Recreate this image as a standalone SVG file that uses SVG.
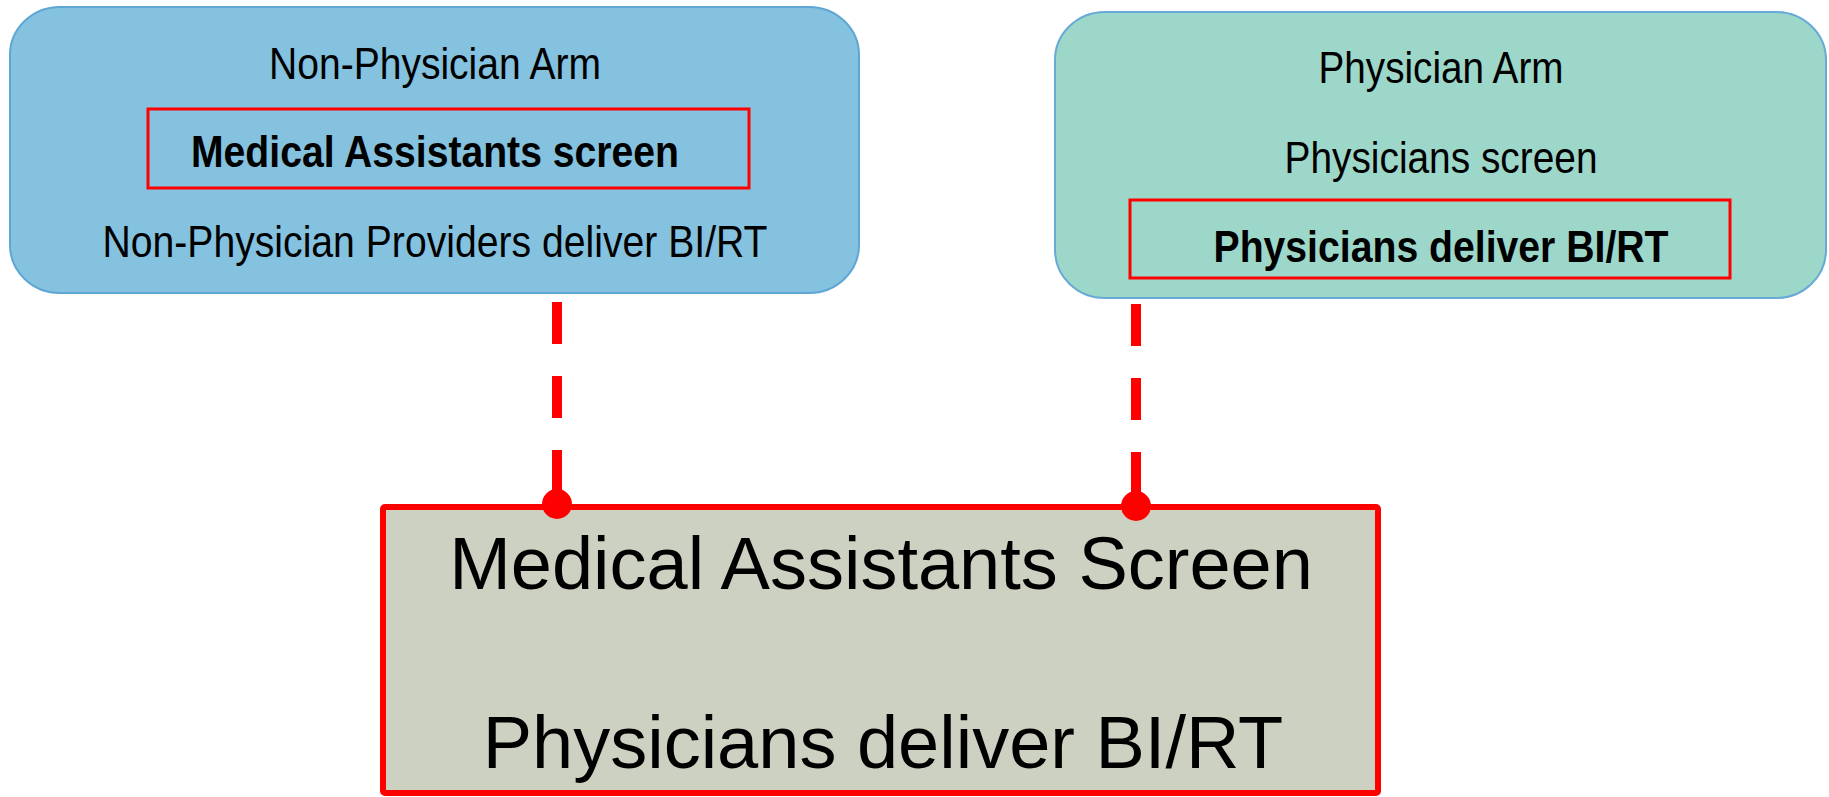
<svg xmlns="http://www.w3.org/2000/svg" width="1829" height="797" viewBox="0 0 1829 797">
<style>
.t{font-family:"Liberation Sans",Arial,sans-serif;fill:#000;text-anchor:middle}
.s{font-size:44px}
.b{font-size:44px;font-weight:bold}
.big{font-size:74px}
.hl{fill:none;stroke:#FF0000;stroke-width:3}
.conn{stroke:#FF0000;stroke-width:10;stroke-dasharray:42 32;fill:none}
.dot{fill:#FF0000}
</style>
<rect width="1829" height="797" fill="#FFFFFF"/>
<g id="non-physician-arm">
<rect x="10" y="7" width="849" height="286" rx="50" ry="48" fill="#84C2DF" stroke="#5EA6D4" stroke-width="2"/>
<text class="t s" x="435" y="79" textLength="332" lengthAdjust="spacingAndGlyphs">Non-Physician Arm</text>
<rect class="hl" x="148" y="109" width="601" height="79"/>
<text class="t b" x="435" y="167" textLength="488" lengthAdjust="spacingAndGlyphs">Medical Assistants screen</text>
<text class="t s" x="435" y="257" textLength="665" lengthAdjust="spacingAndGlyphs">Non-Physician Providers deliver BI/RT</text>
</g>
<g id="physician-arm">
<rect x="1055" y="12" width="771" height="286" rx="50" ry="48" fill="#9DD7C9" stroke="#67AAD6" stroke-width="2"/>
<text class="t s" x="1441" y="83" textLength="245" lengthAdjust="spacingAndGlyphs">Physician Arm</text>
<text class="t s" x="1441" y="173" textLength="313" lengthAdjust="spacingAndGlyphs">Physicians screen</text>
<rect class="hl" x="1130" y="200" width="600" height="78"/>
<text class="t b" x="1441" y="262" textLength="455" lengthAdjust="spacingAndGlyphs">Physicians deliver BI/RT</text>
</g>
<g id="combined">
<rect x="383" y="507" width="995" height="286" rx="2" fill="#CDD1C1" stroke="#FF0000" stroke-width="6"/>
<text class="t big" x="881" y="589">Medical Assistants Screen</text>
<text class="t big" x="883" y="768">Physicians deliver BI/RT</text>
</g>
<g id="connectors">
<line class="conn" x1="557" y1="302" x2="557" y2="500"/>
<circle class="dot" cx="557" cy="504" r="15"/>
<line class="conn" x1="1136" y1="304" x2="1136" y2="502"/>
<circle class="dot" cx="1136" cy="506" r="15"/>
</g>
</svg>
